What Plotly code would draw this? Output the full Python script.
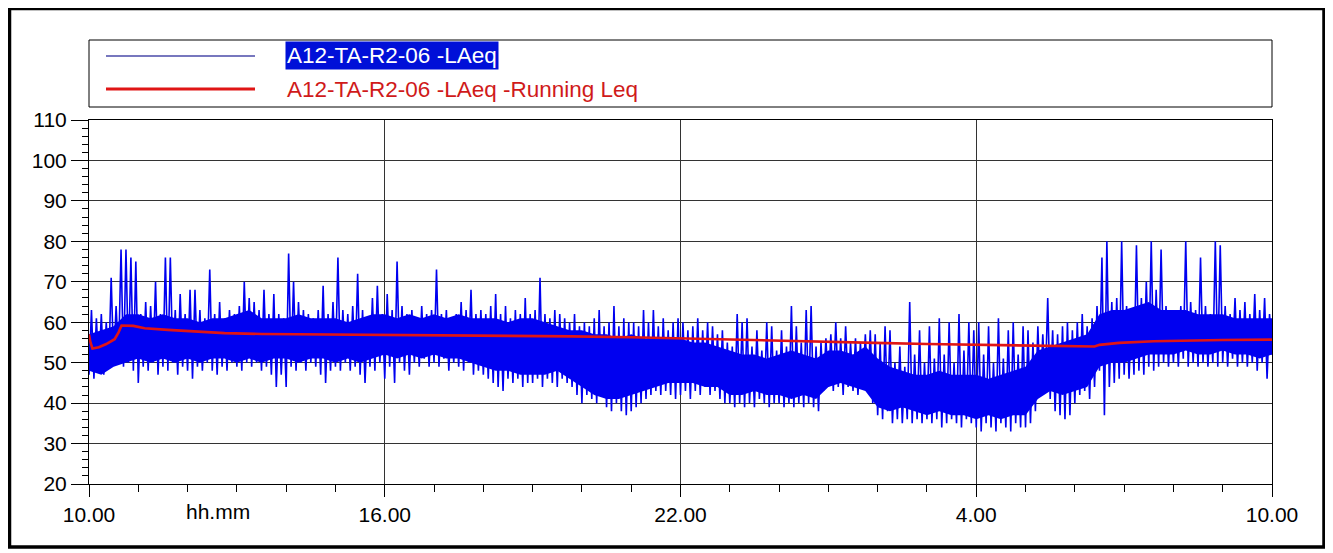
import pandas as pd
import plotly.graph_objects as go

# ---------------- data ----------------
START = "2000-01-01 10:00"
SAMPLE_MIN = 3   # sampling interval of the LAeq trace, minutes
BAND_MIN = 15    # step of the dense-body envelope, minutes

# LAeq, one value every 3 minutes from 10.00 to 10.00 next day (20 per hour)
laeq_h00 = [47, 63, 46, 61, 48, 62, 47, 60, 49, 71, 50, 64, 51, 78, 49, 78, 50, 76, 48, 75]
laeq_h01 = [45, 62, 49, 65, 48, 64, 50, 70, 47, 62, 49, 76, 48, 76, 50, 63, 47, 67, 49, 62]
laeq_h02 = [48, 68, 46, 68, 49, 63, 48, 61, 50, 73, 48, 62, 47, 65, 49, 61, 48, 63, 50, 62]
laeq_h03 = [49, 64, 48, 70, 50, 66, 49, 65, 50, 63, 48, 68, 49, 62, 47, 67, 44, 62, 47, 61]
laeq_h04 = [44, 77, 49, 70, 48, 65, 50, 63, 48, 62, 50, 61, 49, 63, 47, 69, 45, 62, 48, 65]
laeq_h05 = [49, 76, 48, 63, 50, 62, 48, 64, 49, 72, 47, 63, 45, 61, 49, 66, 48, 69, 50, 62]
laeq_h06 = [46, 67, 49, 63, 45, 75, 50, 64, 48, 62, 47, 63, 50, 61, 49, 64, 51, 62, 49, 63]
laeq_h07 = [50, 73, 49, 62, 51, 63, 48, 61, 50, 62, 49, 65, 48, 63, 50, 68, 47, 62, 48, 63]
laeq_h08 = [47, 62, 46, 64, 45, 67, 44, 62, 43, 64, 46, 61, 45, 63, 46, 62, 44, 66, 45, 62]
laeq_h09 = [45, 63, 46, 71, 44, 62, 46, 61, 45, 63, 44, 62, 46, 61, 45, 60, 44, 62, 42, 59]
laeq_h10 = [40, 60, 42, 59, 41, 61, 40, 63, 42, 59, 39, 60, 38, 64, 40, 59, 38, 61, 37, 60]
laeq_h11 = [38, 60, 39, 59, 40, 63, 41, 60, 42, 63, 43, 59, 42, 61, 43, 58, 42, 60, 41, 61]
laeq_h12 = [42, 60, 43, 58, 41, 59, 43, 61, 42, 58, 44, 60, 42, 59, 43, 57, 41, 58, 40, 55]
laeq_h13 = [40, 54, 39, 62, 40, 60, 39, 61, 40, 54, 39, 58, 41, 53, 40, 60, 39, 59, 40, 53]
laeq_h14 = [40, 58, 39, 54, 40, 64, 39, 59, 40, 55, 39, 63, 40, 64, 39, 54, 38, 55, 43, 56]
laeq_h15 = [44, 57, 43, 60, 44, 56, 42, 59, 44, 55, 43, 56, 42, 55, 44, 57, 43, 58, 40, 57]
laeq_h16 = [37, 55, 36, 59, 38, 58, 35, 50, 36, 54, 35, 49, 36, 65, 35, 52, 36, 58, 35, 50]
laeq_h17 = [36, 59, 35, 51, 36, 61, 34, 52, 35, 60, 36, 50, 35, 62, 34, 53, 36, 60, 35, 58]
laeq_h18 = [34, 60, 33, 52, 35, 59, 34, 50, 33, 61, 35, 51, 34, 58, 33, 60, 35, 52, 34, 59]
laeq_h19 = [34, 58, 35, 55, 38, 59, 42, 57, 44, 66, 41, 58, 38, 57, 37, 59, 36, 60, 37, 58]
laeq_h20 = [40, 60, 42, 62, 43, 59, 41, 61, 44, 64, 48, 76, 37, 80, 44, 65, 45, 66, 46, 80]
laeq_h21 = [47, 64, 46, 63, 47, 79, 48, 66, 47, 70, 49, 80, 48, 68, 49, 78, 50, 64, 49, 63]
laeq_h22 = [50, 63, 49, 64, 51, 80, 49, 65, 50, 63, 49, 76, 50, 64, 49, 62, 50, 80, 49, 79]
laeq_h23 = [50, 64, 49, 62, 51, 66, 49, 63, 50, 65, 49, 62, 50, 67, 48, 63, 50, 66, 46, 62]
laeq_end = [52]

laeq = (laeq_h00 + laeq_h01 + laeq_h02 + laeq_h03 + laeq_h04 + laeq_h05 + laeq_h06 +
        laeq_h07 + laeq_h08 + laeq_h09 + laeq_h10 + laeq_h11 + laeq_h12 + laeq_h13 +
        laeq_h14 + laeq_h15 + laeq_h16 + laeq_h17 + laeq_h18 + laeq_h19 + laeq_h20 +
        laeq_h21 + laeq_h22 + laeq_h23 + laeq_end)

# dense body of the LAeq trace (where the fluctuations overlap), every 15 min
body_low = [48, 47, 49, 50,  51, 50, 51, 50,  51, 50, 51, 51,  50, 51, 50, 51,
            51, 50, 51, 51,  50, 51, 50, 51,  52, 51, 52, 51,  52, 51, 51, 50,
            49, 48, 48, 47,  47, 47, 48, 46,  44, 42, 41, 41,  42, 43, 44, 45,
            45, 45, 44, 44,  42, 42, 43, 42,  42, 41, 42, 41,  44, 45, 44, 43,
            39, 38, 39, 38,  37, 38, 37, 37,  36, 37, 36, 37,  37, 41, 43, 42,
            43, 44, 49, 50,  50, 51, 52, 52,  52, 53, 52, 52,  53, 52, 52, 51,
            52]
body_high = [57, 58, 59, 62,  62, 61, 62, 61,  61, 60, 61, 61,  62, 63, 61, 61,
             61, 62, 61, 61,  61, 60, 61, 62,  62, 61, 62, 61,  62, 61, 62, 61,
             61, 61, 60, 61,  61, 60, 59, 58,  58, 57, 57, 56,  57, 56, 56, 56,
             56, 55, 55, 54,  53, 52, 52, 51,  52, 53, 52, 51,  53, 53, 52, 54,
             51, 49, 48, 47,  47, 48, 47, 47,  47, 46, 47, 48,  49, 53, 54, 55,
             56, 57, 62, 63,  63, 64, 65, 63,  63, 63, 62, 62,  62, 61, 61, 61,
             61]

# Running Leq: hours after 10.00 and value
running_hours = [0, 0.03, 0.07, 0.2, 0.35, 0.52, 0.6, 0.66, 0.9, 1.13, 1.6, 2.15, 2.75, 3.5,
                 5, 6.2, 8, 9.8, 11, 12.2, 13.5, 14.6, 15.95, 17, 18, 19, 20.4, 20.5, 20.9,
                 21.6, 22.3, 23, 24]
running_leq = [57, 55, 53.5, 53.8, 54.6, 55.8, 57.5, 59.2, 59.1, 58.5, 58.1, 57.7, 57.3, 57.1,
               57.0, 56.9, 56.8, 56.5, 56.3, 56.0, 55.6, 55.3, 54.9, 54.6, 54.4, 54.1, 54.0,
               54.4, 54.9, 55.3, 55.5, 55.6, 55.7]

tick_hours = [0, 6, 12, 18, 24]
tick_text = ["10.00", "16.00", "22.00", "4.00", "10.00"]
axis_title = "hh.mm"
name_laeq = "A12-TA-R2-06 -LAeq"
name_running = "A12-TA-R2-06 -LAeq -Running Leq"

# ---------------- figure ----------------
start = pd.Timestamp(START)
t_laeq = pd.date_range(start, periods=len(laeq), freq=f"{SAMPLE_MIN}min")
t_band = pd.date_range(start, periods=len(body_low), freq=f"{BAND_MIN}min")
t_run = start + pd.to_timedelta(running_hours, unit="h")
tickvals = start + pd.to_timedelta(tick_hours, unit="h")

BLUE = "#0000f0"
RED = "#e01515"
FONT = "Liberation Sans, Arial, sans-serif"

fig = go.Figure()
fig.add_trace(go.Scatter(x=t_band, y=body_low, mode="lines", line=dict(width=0, color=BLUE),
                         showlegend=False, hoverinfo="skip"))
fig.add_trace(go.Scatter(x=t_band, y=body_high, mode="lines", line=dict(width=0, color=BLUE),
                         fill="tonexty", fillcolor=BLUE, showlegend=False, hoverinfo="skip"))
fig.add_trace(go.Scatter(x=t_laeq, y=laeq, mode="lines", name=name_laeq,
                         line=dict(color=BLUE, width=1.6), showlegend=False))
fig.add_trace(go.Scatter(x=t_run, y=running_leq, mode="lines", name=name_running,
                         line=dict(color=RED, width=2.6), showlegend=False))

# page body has an 8px margin: figure is placed at (8, 8) on screen
OFF = 8
W, H = 1325, 545
L, R, T, B = 81, 61, 112, 69
pw, ph = W - L - R, H - T - B

def px(X):
    """screen x -> paper x"""
    return (X - OFF - L) / pw

def py(Y):
    """screen y -> paper y"""
    return (H - B - (Y - OFF)) / ph

fig.update_layout(
    width=W, height=H,
    margin=dict(l=L, r=R, t=T, b=B, pad=0),
    paper_bgcolor="white", plot_bgcolor="white",
    font=dict(family=FONT, size=21, color="black"),
    xaxis=dict(
        type="date", range=[tickvals[0], tickvals[-1]],
        tickmode="array", tickvals=list(tickvals), ticktext=tick_text,
        showgrid=True, gridcolor="#333333", gridwidth=1,
        ticks="outside", ticklen=12, tickcolor="black", tickwidth=1,
        showline=True, linecolor="black", linewidth=1, mirror=True,
        zeroline=False,
        minor=dict(dtick=3600000, ticks="outside", ticklen=7, tickcolor="black",
                   showgrid=False),
        tickfont=dict(family=FONT, size=21, color="black"),
    ),
    yaxis=dict(
        range=[20, 110], tickmode="linear", tick0=20, dtick=10,
        showgrid=True, gridcolor="#333333", gridwidth=1,
        ticks="outside", ticklen=17, tickcolor="black", tickwidth=1,
        showline=True, linecolor="black", linewidth=1, mirror=True,
        zeroline=False,
        minor=dict(dtick=2, ticks="outside", ticklen=6, tickcolor="black",
                   showgrid=False),
        tickfont=dict(family=FONT, size=21, color="black"),
    ),
    showlegend=False,
)

shapes = [
    # outer frame
    dict(type="rect", xref="paper", yref="paper",
         x0=px(9.5), x1=px(1324), y0=py(547), y1=py(8.5),
         line=dict(color="black", width=3.5), fillcolor="rgba(0,0,0,0)", layer="above"),
    # legend box
    dict(type="rect", xref="paper", yref="paper",
         x0=px(89), x1=px(1272), y0=py(107), y1=py(40),
         line=dict(color="black", width=1), fillcolor="rgba(0,0,0,0)"),
    # legend symbols
    dict(type="line", xref="paper", yref="paper",
         x0=px(106), x1=px(255), y0=py(56), y1=py(56),
         line=dict(color="#4a4aa8", width=1.5)),
    dict(type="line", xref="paper", yref="paper",
         x0=px(106), x1=px(255), y0=py(89), y1=py(89),
         line=dict(color=RED, width=3)),
]
fig.update_layout(shapes=shapes)

fig.add_annotation(xref="paper", yref="paper", x=px(285), y=py(56),
                   xanchor="left", yanchor="middle", showarrow=False,
                   text=name_laeq, bgcolor="#0010d8", borderpad=1,
                   font=dict(family=FONT, size=22.5, color="white"))
fig.add_annotation(xref="paper", yref="paper", x=px(285), y=py(89),
                   xanchor="left", yanchor="middle", showarrow=False,
                   text=name_running,
                   font=dict(family=FONT, size=22.5, color="#d01a1a"))
fig.add_annotation(xref="paper", yref="paper", x=px(218), y=py(511),
                   xanchor="center", yanchor="middle", showarrow=False,
                   text=axis_title,
                   font=dict(family=FONT, size=21, color="black"))

fig.write_html("out.html")
